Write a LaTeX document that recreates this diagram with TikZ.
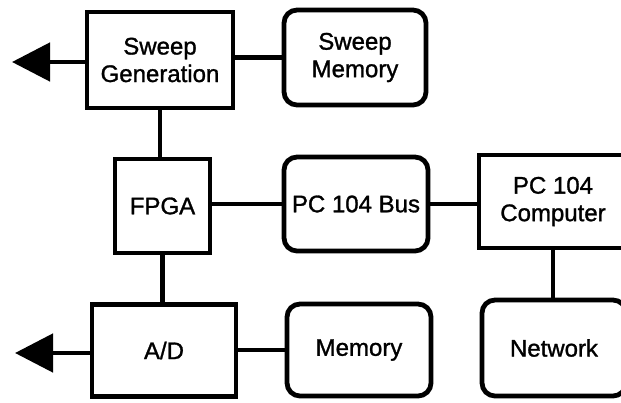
\documentclass[tikz,border=0pt]{standalone}
\usepackage{fontspec}
\setmainfont[FakeBold=1.2]{Liberation Sans}
\usetikzlibrary{arrows.meta}
\begin{document}
\begin{tikzpicture}[x=1pt,y=-1pt,
  blk/.style={draw, line width=4.8pt, inner sep=0pt, align=center,
    font=\fontsize{24}{27.5}\selectfont},
  sqbox/.style={blk},
  rbox/.style={blk, rounded corners=13pt},
  wire/.style={line width=4.8pt},
  outarrow/.style={line width=4.8pt, -{Triangle[length=38pt,width=38pt]}}]
\useasboundingbox (0,0) rectangle (621,402);
\clip (0,0) rectangle (621,402);

% blocks
\node[sqbox, minimum width=146pt, minimum height=96pt] (sg)   at (160,60)    {Sweep\\Generation};
\node[rbox,  minimum width=142pt, minimum height=95pt] (sm)   at (355,57.5)  {Sweep\\Memory};
\node[sqbox, minimum width=95pt,  minimum height=94pt] (fpga) at (162.5,206) {FPGA};
\node[rbox,  minimum width=144pt, minimum height=94pt] (bus)  at (356,204)   {PC 104 Bus};
\node[sqbox, minimum width=148pt, minimum height=93pt] (pc)   at (553,201.5) {PC 104\\Computer};
\node[sqbox, minimum width=144pt, minimum height=92pt] (ad)   at (164,350.5) {A/D};
\node[rbox,  minimum width=144pt, minimum height=92pt] (mem)  at (359,350)   {Memory};
\node[rbox,  minimum width=144pt, minimum height=96pt] (net)  at (554,348)   {Network};

% outputs
\coordinate (sgout) at (12,62);
\coordinate (adout) at (15,353);
\draw[outarrow] (sg.west |- sgout) -- (sgout);
\draw[outarrow] (ad.west |- adout) -- (adout);

% links
\draw[wire] (sg.east |- sm.west) -- (sm.west);
\draw[wire] (sg.south) -- (sg.south |- fpga.north);
\draw[wire] (fpga.east |- bus.west) -- (bus.west);
\draw[wire] (bus.east) -- (pc.west |- bus.east);
\draw[wire] (fpga.south) -- (fpga.south |- ad.north);
\draw[wire] (ad.east |- mem.west) -- (mem.west);
\draw[wire] (pc.south) -- (pc.south |- net.north);
\end{tikzpicture}
\end{document}
